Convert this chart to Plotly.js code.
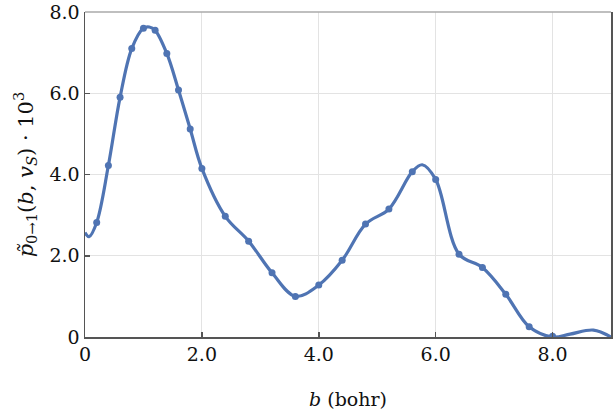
<!DOCTYPE html>
<html>
<head>
<meta charset="utf-8">
<script src="https://cdn.plot.ly/plotly-3.0.1.min.js"></script>
<style>html,body{margin:0;padding:0;background:#fff;}#chart{width:614px;height:418px;}</style>
</head>
<body>
<div id="chart"></div>
<script>
// Sampled points (markers)
const markerB = [0.2,0.4,0.6,0.8,1.0,1.2,1.4,1.6,1.8,2.0,2.4,2.8,3.2,3.6,4.0,4.4,4.8,5.2,5.6,6.0,6.4,6.8,7.2,7.6,8.0];
const markerP = [2.82,4.22,5.9,7.1,7.6,7.55,6.98,6.08,5.12,4.15,2.97,2.36,1.58,1.0,1.28,1.89,2.78,3.15,4.07,3.88,2.04,1.71,1.05,0.25,0.02];
// Smooth curve points
const curveB = [0.0,0.07,0.2,0.4,0.6,0.8,1.0,1.1,1.2,1.4,1.6,1.8,2.0,2.4,2.8,3.2,3.6,4.0,4.4,4.8,5.2,5.6,5.77,6.0,6.4,6.8,7.2,7.6,8.0,8.3,8.7,9.0];
const curveP = [2.57,2.47,2.82,4.22,5.9,7.1,7.6,7.63,7.55,6.98,6.08,5.12,4.15,2.97,2.36,1.58,1.0,1.28,1.89,2.78,3.15,4.07,4.24,3.88,2.04,1.71,1.05,0.25,0.0,0.07,0.17,0.0];
const xTickVals = [0,2,4,6,8];
const xTickText = ["0","2.0","4.0","6.0","8.0"];
const yTickVals = [0,2,4,6,8];
const yTickText = ["0","2.0","4.0","6.0","8.0"];

const blue = '#4f74b3';
const tickFont = {family: 'DejaVu Serif', size: 19, color: '#111'};
const xTitleFont = {family: 'DejaVu Serif', size: 19, color: '#111'};
const yTitleFont = {family: 'DejaVu Serif', size: 21, color: '#111'};

const traces = [
  {x: curveB, y: curveP, mode: 'lines', line: {color: blue, width: 3.2, shape: 'spline', smoothing: 1}, hoverinfo: 'skip', showlegend: false},
  {x: markerB, y: markerP, mode: 'markers', marker: {color: blue, size: 7}, showlegend: false}
];

const layout = {
  width: 614, height: 418,
  margin: {l: 85, r: 3, t: 12, b: 81},
  paper_bgcolor: '#fff', plot_bgcolor: '#fff',
  font: tickFont,
  showlegend: false,
  xaxis: {
    range: [0, 9], tickvals: xTickVals, ticktext: xTickText,
    showgrid: true, gridcolor: '#e3e3e3', gridwidth: 1,
    zeroline: false, showline: true, linecolor: '#555', linewidth: 1.5,
    ticks: 'inside', ticklen: 5, tickcolor: '#555', tickwidth: 1.5,
    tickfont: tickFont,
    title: {text: '<i>b</i> (bohr)', font: xTitleFont, standoff: 28}
  },
  yaxis: {
    range: [0, 8], tickvals: yTickVals, ticktext: yTickText,
    showgrid: true, gridcolor: '#e3e3e3', gridwidth: 1,
    zeroline: false, showline: true, linecolor: '#555', linewidth: 1.5, mirror: true,
    ticks: 'inside', ticklen: 5, tickcolor: '#555', tickwidth: 1.5,
    tickfont: tickFont,
    title: {text: '<i>p̃</i><sub>0→1</sub>(<i>b</i>, <i>v<sub>S</sub></i>) · 10<sup>3</sup>', font: yTitleFont, standoff: 10}
  },
  shapes: [
    {type: 'line', xref: 'paper', yref: 'paper', x0: 0, x1: 1, y0: 1, y1: 1, line: {color: '#aaa', width: 1.5}}
  ]
};

Plotly.newPlot('chart', traces, layout, {displayModeBar: false, staticPlot: true});
</script>
</body>
</html>
